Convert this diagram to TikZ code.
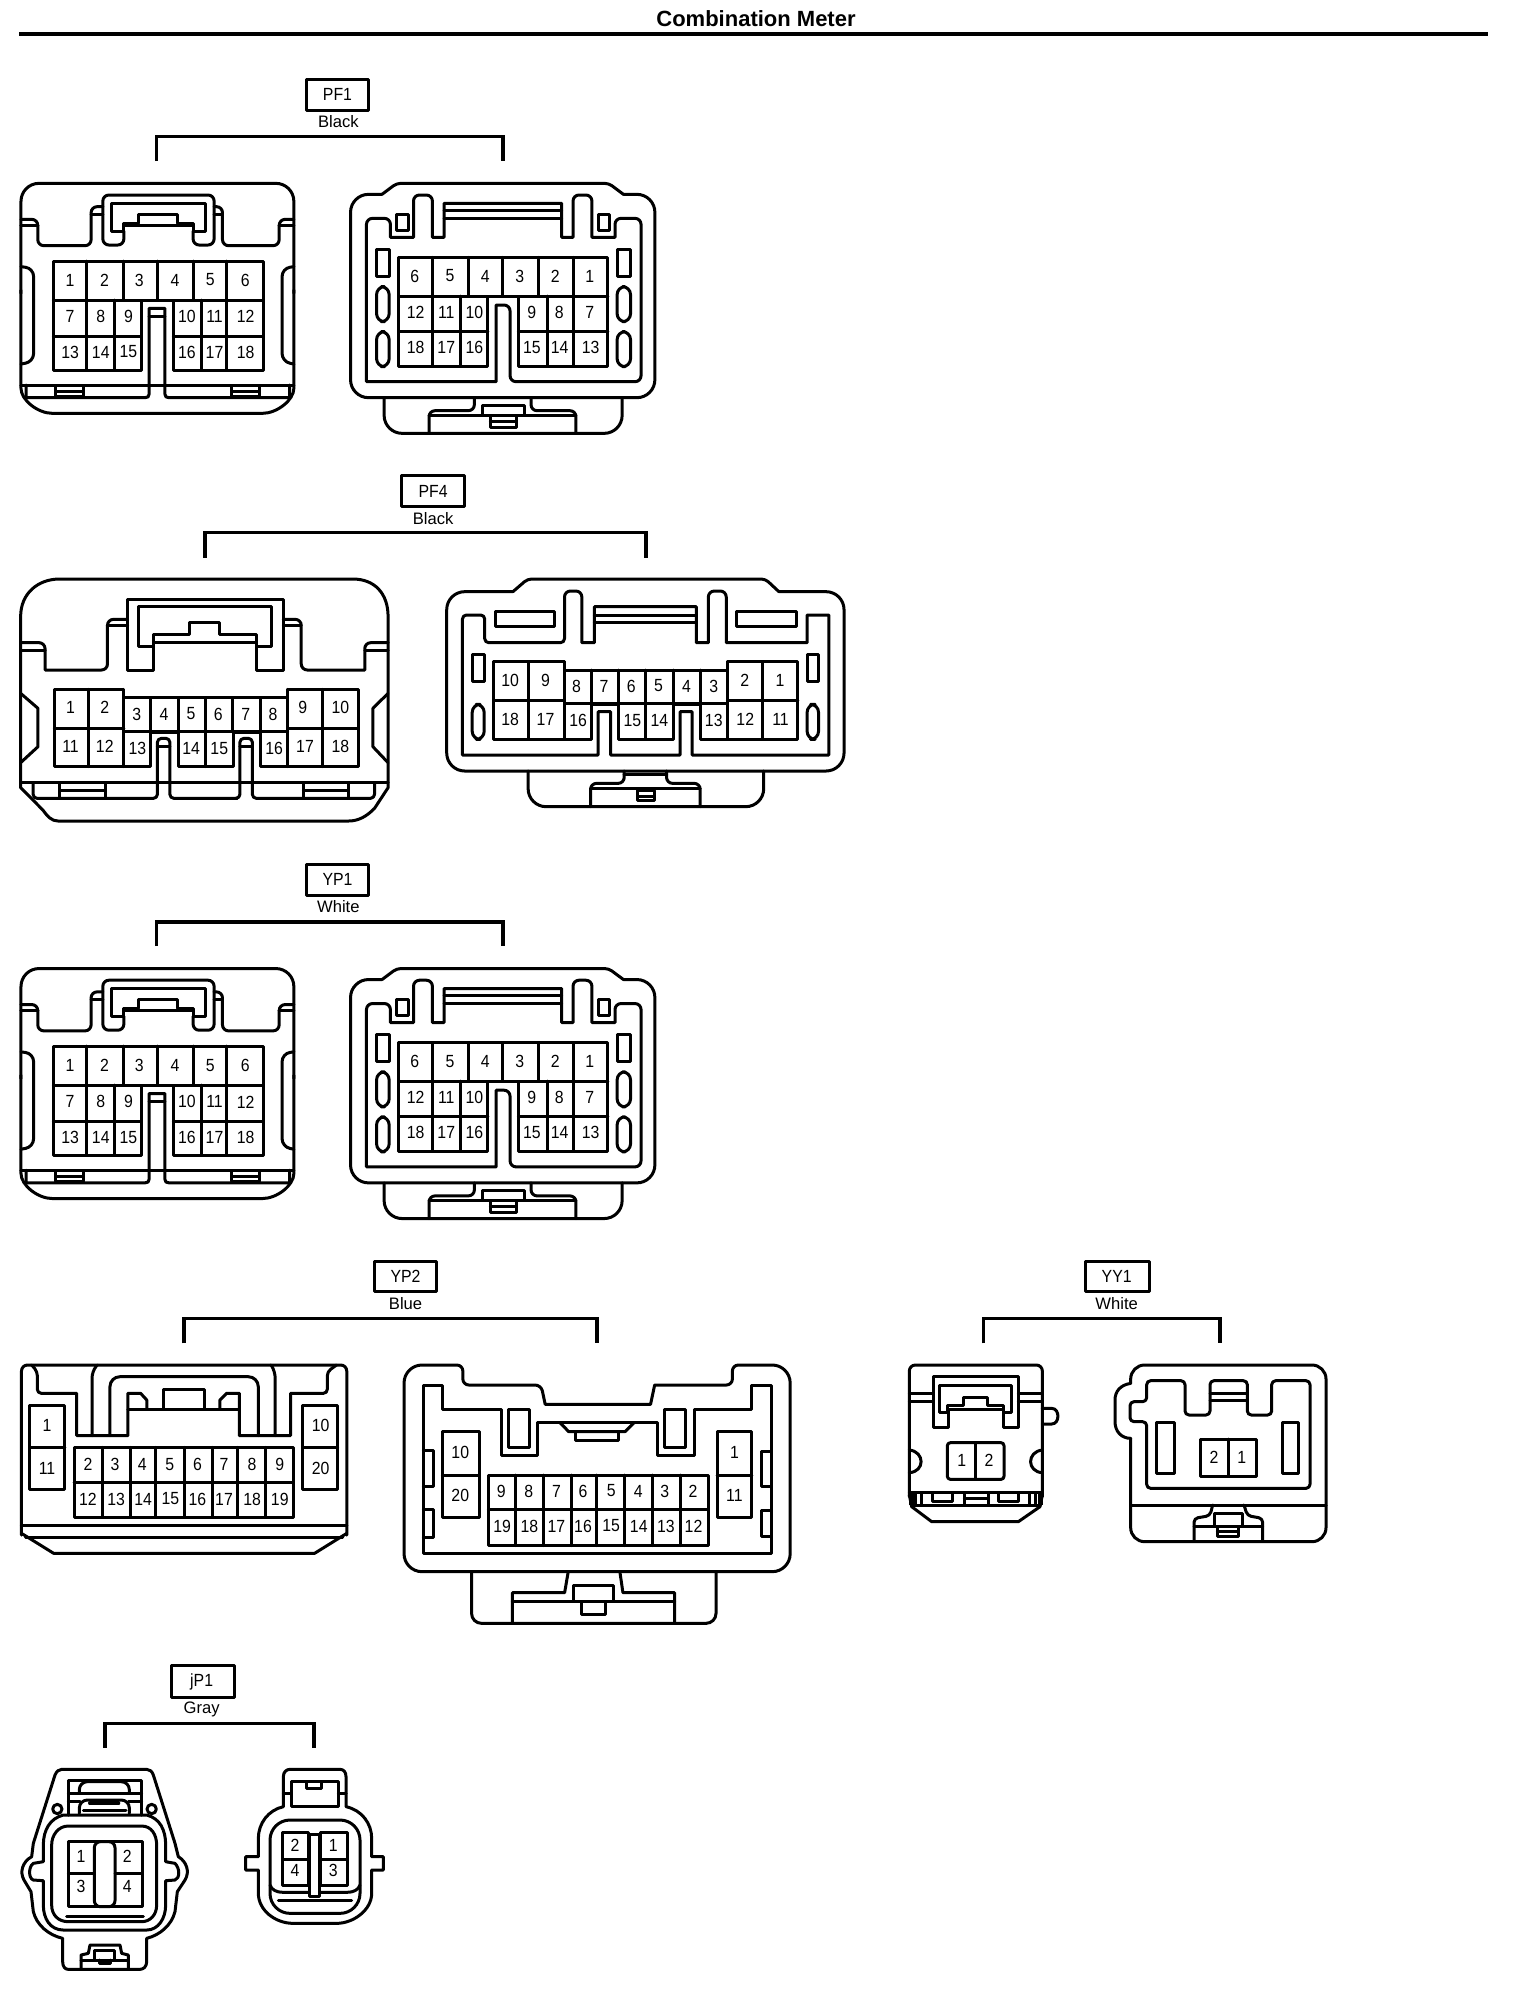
\documentclass[tikz,border=0pt]{standalone}
\usepackage{fontspec}
\setmainfont{Liberation Sans}
\newfontfamily\pinfont[FakeStretch=0.9]{Liberation Sans}
\newcounter{nn}
\tikzset{
  ln/.style={draw=black,line width=1.5pt,line join=round,line cap=round},
  brk/.style={draw=black,line width=1.8pt,line join=miter},
  pinlab/.style={inner sep=0pt,font=\pinfont\fontsize{8.8}{9}\selectfont,text=black},
  taglab/.style={inner sep=0pt,font=\pinfont\fontsize{8.8}{9}\selectfont,text=black},
  collab/.style={inner sep=0pt,font=\fontsize{8.3}{9}\selectfont,text=black},
  zA/.style={x=0.2099pt,y=-0.16667pt,yshift=-30pt},
  zB/.style={x=0.2714pt,y=-0.16667pt,yshift=-230pt},
  zC/.style={x=0.25572pt,y=-0.16667pt,yshift=-615pt},
  zD/.style={x=0.16667pt,y=-0.16667pt,xshift=435pt,yshift=-615pt},
  zE/.style={x=0.16667pt,y=-0.16667pt,xshift=550pt,yshift=-675pt},
  zF/.style={x=0.16667pt,y=-0.16667pt,yshift=-815pt},
}
\newcommand\lab[2]{\stepcounter{nn}\node[pinlab] (n\arabic{nn}) at (#1) {#2};}
\newcommand\labs[2]{\foreach \xx/\vv in {#2} {\stepcounter{nn}\node[pinlab] (n\arabic{nn}) at (\xx,#1) {\vv};}}
% PF1 / YP1 shape
\newcommand\blockA[2]{%
  \draw[ln] (730,57) rectangle (878,150);
  \stepcounter{nn}\node[taglab] (n\arabic{nn}) at (804,103) {#1};
  \stepcounter{nn}\node[collab] (n\arabic{nn}) at (806,185) {#2};
  \coordinate (aL) at (373,303); \coordinate (aR) at (1198,303);
  \draw[brk] (aL) -- (373,230) -- (1198,230) -- (aR);
  % left connector
  \draw[ln,rounded corners=9pt] (50,700) -- (50,370) -- (700,370) -- (700,700);
  \draw[ln] (50,690) -- (50,985) .. controls (50,1020) and (90,1060) .. (125,1060) -- (625,1060) .. controls (660,1060) and (700,1020) .. (700,985) -- (700,690);
  \draw[ln] (50,975) -- (700,975);
  \draw[ln] (62,975) -- (62,1013) -- (345,1013) .. controls (352,1013) and (355,1010) .. (355,1003) -- (355,745) -- (393,745) -- (393,1003) .. controls (393,1010) and (396,1013) .. (403,1013) -- (690,1013) -- (690,975);
  \draw[ln] (355,768) -- (393,768);
  \draw[ln] (133,975) rectangle (198,1010); \draw[ln] (133,993) -- (198,993);
  \draw[ln] (552,975) rectangle (617,1010); \draw[ln] (552,993) -- (617,993);
  \draw[ln] (265,430) -- (490,430) -- (490,513) -- (460,513) -- (460,490) -- (422,490) -- (422,462) -- (330,462) -- (330,490) -- (293,490) -- (293,513) -- (265,513) -- cycle;
  \draw[ln] (295,497) -- (460,497);
  \draw[ln,rounded corners=3pt] (295,513) -- (295,555) -- (245,555) -- (245,405) -- (510,405) -- (510,555) -- (460,555) -- (460,513);
  \draw[ln,rounded corners=3pt] (245,440) -- (217,440) -- (217,557) -- (90,557) -- (90,478) -- (50,478);
  \draw[ln] (217,462) -- (245,462); \draw[ln] (50,497) -- (90,497);
  \draw[ln,rounded corners=3pt] (510,440) -- (530,440) -- (530,557) -- (665,557) -- (665,478) -- (700,478);
  \draw[ln] (510,462) -- (530,462); \draw[ln] (665,497) -- (700,497);
  \draw[ln,rounded corners=4pt] (50,620) -- (80,625) -- (80,905) -- (50,912);
  \draw[ln,rounded corners=4pt] (700,620) -- (672,625) -- (672,905) -- (700,912);
  \draw[ln] (127,603) -- (627,603) -- (627,930) -- (413,930) -- (413,720) -- (337,720) -- (337,930) -- (127,930) -- cycle;
  \draw[ln] (127,720) -- (337,720); \draw[ln] (413,720) -- (627,720) (340,720) -- (413,720);
  \draw[ln] (127,828) -- (337,828) (413,828) -- (627,828);
  \foreach \x in {207,293,375,460,540} \draw[ln] (\x,603) -- (\x,720);
  \foreach \x in {207,273,480,540} \draw[ln] (\x,720) -- (\x,930);
  \labs{660}{167/1,249/2,332/3,417/4,501/5,584/6}
  \labs{770}{167/7,240/8,306/9,445/10,511/11,585/12}
  \labs{876}{167/13,240/14,306/15,445/16,511/17,585/18}
  % right connector
  \draw[ln,rounded corners=2pt] (910,403) -- (945,370) -- (1450,370) -- (1485,403);
  \draw[ln,rounded corners=9pt] (910,403) -- (835,403) -- (835,1013) -- (1560,1013) -- (1560,403) -- (1485,403);
  \draw[ln,rounded corners=9pt] (915,1013) -- (915,1120) -- (1482,1120) -- (1482,1013);
  \draw[ln,rounded corners=3pt] (1130,1013) -- (1130,1052) -- (1022,1052) -- (1022,1120);
  \draw[ln,rounded corners=3pt] (1265,1013) -- (1265,1052) -- (1372,1052) -- (1372,1120);
  \draw[ln] (1022,1065) -- (1372,1065);
  \draw[ln] (1150,1035) rectangle (1250,1065);
  \draw[ln] (1168,1065) rectangle (1230,1103); \draw[ln] (1168,1085) -- (1230,1085);
  \draw[ln,rounded corners=3pt] (873,965) -- (873,475) -- (930,475) [sharp corners] -- (930,532) -- (985,532) [rounded corners=3pt] -- (985,405) -- (1030,405) [sharp corners] -- (1030,532) -- (1058,532) -- (1058,430) -- (1338,430) -- (1338,532) -- (1365,532) [rounded corners=3pt] -- (1365,405) -- (1410,405) [sharp corners] -- (1410,532) -- (1465,532) [rounded corners=3pt] -- (1465,475) -- (1527,475) -- (1527,965) -- (1215,965) -- (1215,735) [sharp corners] -- (1182,735) -- (1182,965) -- cycle;
  \draw[ln] (1058,452) -- (1338,452) (1058,475) -- (1338,475);
  \draw[ln] (945,462) rectangle (972,512); \draw[ln] (1425,462) rectangle (1452,512);
  \draw[ln] (897,568) rectangle (927,650); \draw[ln] (1470,568) rectangle (1502,650);
  \draw[ln,rounded corners=4pt] (897,680) rectangle (927,785); \draw[ln,rounded corners=4pt] (897,815) rectangle (927,920);
  \draw[ln,rounded corners=4pt] (1470,680) rectangle (1502,785); \draw[ln,rounded corners=4pt] (1470,815) rectangle (1502,920);
  \draw[ln] (950,592) -- (1448,592) -- (1448,918) -- (1235,918) -- (1235,708) -- (1162,708) -- (1162,918) -- (950,918) -- cycle;
  \draw[ln] (950,708) -- (1448,708);
  \draw[ln] (950,815) -- (1162,815) (1235,815) -- (1448,815);
  \foreach \x in {1030,1115,1197,1283,1365} \draw[ln] (\x,592) -- (\x,708);
  \foreach \x in {1030,1097,1303,1365} \draw[ln] (\x,708) -- (\x,918);
  \labs{648}{988/6,1072/5,1156/4,1238/3,1323/2,1405/1}
  \labs{757}{990/12,1063/11,1130/10,1267/9,1332/8,1405/7}
  \labs{862}{990/18,1063/17,1130/16,1267/15,1333/14,1407/13}
}
\begin{document}
\begin{tikzpicture}[x=0.5pt,y=-0.5pt]
\useasboundingbox (0,0) rectangle (1536,1998);
% title
\node[inner sep=0pt,font=\bfseries\fontsize{11}{11}\selectfont] (title) at (756,19) {Combination Meter};
\coordinate (ruleL) at (19,34); \coordinate (ruleR) at (1494,34);
\draw[draw=black,line width=2.2pt] (ruleL) -- ([xshift=-3pt]ruleR);
% PF1
\begin{scope}[zA]
\blockA{PF1}{Black}
\end{scope}
% YP1
\begin{scope}[zA,yshift=-392.6pt]
\blockA{YP1}{White}
\end{scope}
% PF4
\begin{scope}[zB]
\draw[ln] (740,45) rectangle (855,140);
\node[taglab] (pf4) at (798,93) {PF4};
\node[collab] (pf4c) at (798,175) {Black};
\coordinate (bL) at (378,293); \coordinate (bR) at (1190,293);
\draw[brk] (bL) -- (378,217) -- (1190,217) -- (bR);
% left
\draw[ln] (38,983) -- (38,470) .. controls (38,400) and (70,357) .. (110,357) -- (650,357) .. controls (690,357) and (715,400) .. (715,470) -- (715,983) -- (690,1045) .. controls (675,1070) and (660,1083) .. (642,1083) -- (107,1083) .. controls (95,1083) and (88,1070) .. (79,1050) -- cycle;
\draw[ln] (38,968) -- (715,968);
\draw[ln,rounded corners=2pt] (61,968) -- (61,1015) -- (290,1015) -- (290,835) -- (313,835) -- (313,1015) -- (437,1015);
\draw[ln,rounded corners=2pt] (437,1015) -- (442,1015) -- (442,835) -- (465,835) -- (465,1015) -- (690,1015) -- (690,968);
\draw[ln] (290,858) -- (313,858) (442,858) -- (465,858);
\draw[ln] (110,968) rectangle (194,1015); \draw[ln] (110,990) -- (194,990);
\draw[ln] (559,968) rectangle (642,1015); \draw[ln] (559,990) -- (642,990);
\draw[ln] (255,440) -- (500,440) -- (500,558) -- (472,558) -- (472,522) -- (405,522) -- (405,487) -- (350,487) -- (350,522) -- (283,522) -- (283,558) -- (255,558) -- cycle;
\draw[ln] (283,548) -- (472,548);
\draw[ln] (283,558) -- (283,630) -- (235,630) -- (235,418) -- (522,418) -- (522,630) -- (472,630) -- (472,558);
\draw[ln,rounded corners=3pt] (235,478) -- (198,478) -- (198,630) [sharp corners] -- (83,630) [rounded corners=3pt] -- (83,548) -- (38,548);
\draw[ln] (198,497) -- (235,497) (38,570) -- (83,570);
\draw[ln,rounded corners=3pt] (522,478) -- (555,478) -- (555,630) [sharp corners] -- (672,630) [rounded corners=3pt] -- (672,548) -- (715,548);
\draw[ln] (522,497) -- (555,497) (672,570) -- (715,570);
\draw[ln] (38,700) -- (70,745) -- (70,860) -- (38,908);
\draw[ln] (715,700) -- (687,745) -- (687,860) -- (715,908);
\draw[ln] (100,688) -- (228,688) -- (228,713) -- (530,713) -- (530,688) -- (660,688) -- (660,920) -- (480,920) -- (480,817) -- (430,817) -- (430,920) -- (328,920) -- (328,817) -- (277,817) -- (277,920) -- (100,920) -- cycle;
\draw[ln] (100,805) -- (228,805) (530,805) -- (660,805) (228,815) -- (530,815);
\foreach \x in {163,228,530,594} \draw[ln] (\x,688) -- (\x,920);
\foreach \x in {277,328,378,428,480} \draw[ln] (\x,713) -- (\x,815);
\draw[ln] (378,815) -- (378,920);
\labs{743}{130/1,193/2,558/9,627/10}
\labs{762}{252/3,302/4,352/5,402/6,453/7,503/8}
\labs{860}{130/11,193/12,562/17,627/18}
\labs{865}{253/13,352/14,404/15,505/16}
% right
\draw[ln,rounded corners=2pt] (945,395) -- (972,357) -- (1410,357) -- (1435,395);
\draw[ln,rounded corners=9pt] (945,395) -- (823,395) -- (823,933) -- (1555,933) -- (1555,395) -- (1435,395);
\draw[ln,rounded corners=9pt] (973,933) -- (973,1040) -- (1407,1040) -- (1407,933);
\draw[ln,rounded corners=3pt] (1150,933) -- (1150,970) -- (1088,970) -- (1088,1040);
\draw[ln,rounded corners=3pt] (1228,933) -- (1228,970) -- (1290,970) -- (1290,1040);
\draw[ln] (1088,985) -- (1290,985) (1150,942) -- (1228,942);
\draw[ln] (1175,990) rectangle (1205,1022); \draw[ln] (1175,1010) -- (1205,1010);
\draw[ln,rounded corners=2pt] (852,885) -- (852,465) -- (893,465) -- (893,548) -- (1040,548) [rounded corners=3pt] -- (1040,393) -- (1072,393) [sharp corners] -- (1072,548) -- (1095,548) -- (1095,440) -- (1283,440) -- (1283,548) -- (1305,548) [rounded corners=3pt] -- (1305,393) -- (1338,393) [sharp corners] -- (1338,548) -- (1487,548) -- (1487,465) -- (1527,465) -- (1527,885) -- (1275,885) -- (1275,755) -- (1253,755) -- (1253,885) -- (1125,885) -- (1125,755) -- (1102,755) -- (1102,885) -- cycle;
\draw[ln] (1095,465) -- (1283,465) (1095,487) -- (1283,487);
\draw[ln] (912,453) rectangle (1022,498); \draw[ln] (1357,453) rectangle (1467,498);
\draw[ln] (870,583) rectangle (892,665); \draw[ln] (1487,583) rectangle (1508,665);
\draw[ln,rounded corners=4pt] (870,733) rectangle (892,838); \draw[ln,rounded corners=4pt] (1487,733) rectangle (1508,838);
\draw[ln] (910,605) -- (1040,605) -- (1040,630) -- (1340,630) -- (1340,605) -- (1470,605) -- (1470,838) -- (1290,838) -- (1290,733) -- (1240,733) -- (1240,838) -- (1140,838) -- (1140,733) -- (1090,733) -- (1090,838) -- (910,838) -- cycle;
\draw[ln] (910,722) -- (1040,722) (1340,722) -- (1470,722) (1040,730) -- (1340,730);
\foreach \x in {973,1040,1340,1405} \draw[ln] (\x,605) -- (\x,838);
\foreach \x in {1090,1140,1190,1240,1290} \draw[ln] (\x,630) -- (\x,730);
\draw[ln] (1190,730) -- (1190,838);
\labs{660}{940/10,1005/9,1372/2,1437/1}
\labs{678}{1062/8,1113/7,1163/6,1213/5,1265/4,1315/3}
\labs{777}{940/18,1005/17,1373/12,1438/11}
\labs{782}{1065/16,1165/15,1215/14,1315/13}
\end{scope}
% YP2
\begin{scope}[zC]
\draw[ln] (732,93) rectangle (853,185);
\node[taglab] (yp2) at (793,138) {YP2};
\node[collab] (yp2c) at (793,222) {Blue};
\coordinate (cL) at (360,340); \coordinate (cR) at (1167,340);
\draw[brk] (cL) -- (360,266) -- (1167,266) -- (cR);
% left
\draw[ln,rounded corners=3pt] (42,915) -- (42,405) -- (678,405) -- (678,915);
\draw[ln] (42,910) -- (105,970) -- (615,970) -- (678,910);
\draw[ln] (42,885) -- (678,885) (50,922) -- (670,922);
\draw[ln,rounded corners=2pt] (62,405) -- (73,425) -- (73,490) [sharp corners] -- (150,490) -- (150,617) -- (250,617) -- (250,490) -- (275,490) -- (287,510) -- (287,537);
\draw[ln,rounded corners=2pt] (658,405) -- (640,425) -- (640,490) [sharp corners] -- (568,490) -- (568,617) -- (468,617) -- (468,490) -- (443,490) -- (430,510) -- (430,537);
\draw[ln] (250,537) -- (468,537);
\draw[ln,rounded corners=3pt] (190,405) -- (180,425) -- (180,617);
\draw[ln,rounded corners=3pt] (530,405) -- (538,425) -- (538,617);
\draw[ln,rounded corners=5pt] (215,617) -- (215,440) -- (505,440) -- (505,617);
\draw[ln] (320,537) -- (320,478) -- (400,478) -- (400,537);
\draw[ln] (58,525) rectangle (127,778); \draw[ln] (58,652) -- (127,652);
\draw[ln] (592,525) rectangle (660,778); \draw[ln] (592,652) -- (660,652);
\draw[ln] (145,652) rectangle (573,862); \draw[ln] (145,757) -- (573,757);
\foreach \x in {200,255,305,360,415,465,520} \draw[ln] (\x,652) -- (\x,862);
\labs{703}{172/2,225/3,278/4,332/5,386/6,438/7,493/8,547/9}
\labs{807}{172/12,227/13,280/14,333/15,386/16,438/17,493/18,547/19}
\lab{92,585}{1} \lab{92,715}{11} \lab{627,585}{10} \lab{627,715}{20}
% right
\draw[ln,rounded corners=9pt] (790,700) -- (790,405) [rounded corners=3pt] -- (905,405) -- (905,465) -- (1058,465) [sharp corners] -- (1066,523) -- (1272,523) -- (1280,465) [rounded corners=3pt] -- (1432,465) -- (1432,405) [rounded corners=9pt] -- (1545,405) -- (1545,1025) -- (790,1025) -- cycle;
\draw[ln] (828,970) -- (828,465) -- (865,465) -- (865,537) -- (980,537) -- (980,677) -- (1050,677) -- (1050,578) -- (1285,578) -- (1285,677) -- (1357,677) -- (1357,537) -- (1470,537) -- (1470,465) -- (1508,465) -- (1508,970) -- cycle;
\draw[ln] (995,537) rectangle (1035,652); \draw[ln] (1300,537) rectangle (1340,652);
\draw[ln] (1095,578) -- (1112,605) -- (1222,605) -- (1240,578);
\draw[ln] (1125,605) rectangle (1210,630);
\draw[ln] (865,603) rectangle (937,862); \draw[ln] (865,737) -- (937,737);
\draw[ln] (1402,603) rectangle (1470,862); \draw[ln] (1402,737) -- (1470,737);
\draw[ln] (955,735) rectangle (1385,947); \draw[ln] (955,838) -- (1385,838);
\foreach \x in {1008,1062,1117,1167,1222,1276,1330} \draw[ln] (\x,735) -- (\x,947);
\draw[ln] (828,662) -- (848,662) -- (848,768) -- (828,768);
\draw[ln] (828,838) -- (848,838) -- (848,922) -- (828,922);
\draw[ln] (1508,665) -- (1488,665) -- (1488,768) -- (1508,768);
\draw[ln] (1508,840) -- (1488,840) -- (1488,920) -- (1508,920);
\lab{900,667}{10} \lab{900,795}{20} \lab{1436,667}{1} \lab{1436,795}{11}
\labs{783}{980/9,1034/8,1088/7,1140/6,1195/5,1248/4,1300/3,1355/2}
\labs{888}{982/19,1035/18,1088/17,1140/16,1195/15,1249/14,1302/13,1356/12}
\draw[ln,rounded corners=5pt] (922,1025) -- (922,1180) -- (1400,1180) -- (1400,1025);
\draw[ln] (1111,1025) -- (1104,1088) -- (1002,1088) -- (1002,1180);
\draw[ln] (1212,1025) -- (1218,1088) -- (1319,1088) -- (1319,1180);
\draw[ln] (1002,1113) -- (1319,1113);
\draw[ln] (1122,1065) rectangle (1200,1113);
\draw[ln] (1137,1113) rectangle (1184,1152);
\end{scope}
% YY1 left
\begin{scope}[zD]
\draw[ln] (645,93) rectangle (837,185);
\node[taglab] (yy1) at (740,138) {YY1};
\node[collab] (yy1c) at (740,222) {White};
\coordinate (dL) at (340,340); \coordinate (dR) at (1050,340);
\draw[brk] (dL) -- (340,266) -- (1050,266) -- (dR);
\draw[ln,rounded corners=3pt] (118,800) -- (118,405) -- (517,405) -- (517,800);
\draw[ln] (118,795) -- (125,830) -- (185,875) -- (445,875) -- (510,830) -- (517,795);
\draw[ln] (118,788) -- (517,788) (125,825) -- (510,825);
\draw[line width=2.5pt,draw=black] (125,790) -- (125,825);
\draw[line width=2.5pt,draw=black] (510,790) -- (510,825);
\foreach \x in {135,155,478,497} \draw[ln] (\x,788) -- (\x,825);
\draw[ln] (187,788) -- (187,815) -- (247,815) -- (247,788);
\draw[ln] (385,788) -- (385,815) -- (445,815) -- (445,788);
\draw[ln] (283,788) -- (283,825) (355,788) -- (355,825) (283,805) -- (355,805);
\draw[ln] (235,540) -- (235,593) -- (190,593) -- (190,440) -- (445,440) -- (445,593) -- (400,593) -- (400,540);
\draw[ln] (208,465) -- (425,465) -- (425,547) -- (400,547) -- (400,525) -- (353,525) -- (353,502) -- (280,502) -- (280,525) -- (232,525) -- (232,547) -- (208,547) -- cycle;
\draw[ln] (235,537) -- (400,537);
\draw[ln] (118,490) -- (190,490) (118,513) -- (190,513) (445,490) -- (517,490) (445,513) -- (517,513);
\draw[ln] (517,535) -- (545,535) .. controls (570,535) and (570,582) .. (545,582) -- (517,582);
\draw[ln] (118,660) .. controls (165,665) and (165,725) .. (118,728);
\draw[ln] (517,660) .. controls (470,665) and (470,725) .. (517,728);
\draw[ln,rounded corners=1.5pt] (232,638) rectangle (402,748);
\draw[ln] (315,638) -- (315,748);
\lab{275,690}{1} \lab{357,690}{2}
\end{scope}
% YY1 right
\begin{scope}[zE]
\draw[ln,rounded corners=7pt] (92,265) -- (92,575) -- (678,575) -- (678,45) -- (92,45) -- (92,100);
\draw[ln] (92,100) .. controls (60,105) and (45,125) .. (45,150) -- (45,215) .. controls (45,245) and (65,265) .. (92,265);
\draw[ln] (92,465) -- (678,465);
\draw[ln,rounded corners=2pt] (140,415) -- (140,215) -- (90,215) -- (90,155) -- (140,155) -- (140,92) -- (255,92) -- (255,195) -- (330,195) -- (330,92) -- (442,92) -- (442,195) -- (515,195) -- (515,92) -- (630,92) -- (630,415) -- cycle;
\draw[ln] (330,130) -- (442,130) (330,152) -- (442,152);
\draw[ln] (170,218) rectangle (222,370); \draw[ln] (548,218) rectangle (595,370);
\draw[ln] (302,267) rectangle (470,378); \draw[ln] (385,267) -- (385,378);
\lab{342,322}{2} \lab{425,322}{1}
\draw[ln,rounded corners=2pt] (338,465) -- (330,497) -- (282,505) -- (282,572);
\draw[ln,rounded corners=2pt] (432,465) -- (442,497) -- (488,505) -- (488,572);
\draw[ln] (282,530) -- (488,530);
\draw[ln] (342,490) rectangle (428,530);
\draw[ln] (352,530) rectangle (415,558); \draw[ln] (352,545) -- (415,545);
\end{scope}
% jP1
\begin{scope}[zF]
\draw[ln] (513,105) rectangle (702,203);
\node[taglab] (jp1) at (605,155) {jP1};
\node[collab] (jp1c) at (605,237) {Gray};
\coordinate (eL) at (315,353); \coordinate (eR) at (942,353);
\draw[brk] (eL) -- (315,280) -- (942,280) -- (eR);
% left
\draw[ln] (185,418) -- (440,418) .. controls (450,418) and (456,424) .. (460,435) -- (525,640) -- (535,680) .. controls (560,695) and (570,725) .. (555,750) -- (532,785) -- (525,845) .. controls (515,885) and (480,915) .. (440,925) -- (440,995) .. controls (440,1010) and (430,1018) .. (420,1018) -- (205,1018) .. controls (195,1018) and (188,1010) .. (188,995) -- (188,925) .. controls (145,915) and (110,885) .. (100,845) -- (93,785) -- (72,750) .. controls (58,725) and (68,695) .. (95,680) -- (100,640) -- (165,435) .. controls (170,424) and (176,418) .. (185,418) -- cycle;
\draw[ln] (190,555) -- (440,555) .. controls (480,565) and (497,600) .. (497,645) -- (497,695) -- (525,700) .. controls (540,715) and (540,745) .. (525,750) -- (497,752) -- (497,825) .. controls (497,865) and (475,900) .. (440,900) -- (190,900) .. controls (150,900) and (130,865) .. (130,825) -- (130,752) -- (100,750) .. controls (85,745) and (85,710) .. (100,700) -- (130,695) -- (130,645) .. controls (130,600) and (150,565) .. (190,555) -- cycle;
\draw[ln] (205,588) -- (425,588) .. controls (455,588) and (470,615) .. (470,645) -- (470,825) .. controls (470,855) and (450,875) .. (425,875) -- (205,875) .. controls (175,875) and (155,855) .. (155,825) -- (155,645) .. controls (155,615) and (175,588) .. (205,588) -- cycle;
\draw[ln] (200,860) -- (430,860);
\draw[ln] (205,635) rectangle (427,830);
\draw[ln] (205,730) -- (283,730) (345,730) -- (427,730);
\draw[ln,rounded corners=3pt] (283,635) rectangle (345,830);
\lab{243,680}{1} \lab{243,770}{3} \lab{382,680}{2} \lab{382,770}{4}
\draw[ln] (205,555) -- (205,452) -- (425,452) -- (425,555);
\draw[ln] (205,490) -- (240,490) (205,515) -- (240,515) (385,490) -- (425,490) (385,515) -- (425,515);
\draw[ln,rounded corners=4pt] (238,490) -- (238,455) -- (388,455) -- (388,490);
\draw[ln] (238,490) -- (388,490);
\draw[ln,rounded corners=4pt] (238,550) -- (238,510) -- (388,510) -- (388,550);
\draw[ln,line width=2pt] (270,520) -- (355,520);
\draw[ln] (250,542) -- (378,542);
\draw[ln] (172,537) circle[radius=14];
\draw[ln] (455,537) circle[radius=14];
\draw[ln] (243,1015) -- (243,975) -- (265,970) -- (270,945) -- (360,945) -- (365,970) -- (385,975) -- (385,1015);
\draw[ln] (243,990) -- (385,990);
\draw[ln] (283,960) rectangle (343,990);
\draw[ln] (298,990) -- (298,1000) -- (330,1000) -- (330,990);
% right
\draw[ln] (850,530) -- (850,440) .. controls (850,425) and (860,418) .. (870,418) -- (1020,418) .. controls (1030,418) and (1038,425) .. (1038,440) -- (1038,530) .. controls (1085,540) and (1115,580) .. (1115,625) -- (1115,680) -- (1150,680) -- (1150,720) -- (1115,720) -- (1115,790) .. controls (1115,840) and (1060,880) .. (1010,880) -- (880,880) .. controls (825,880) and (775,840) .. (775,790) -- (775,720) -- (737,720) -- (737,680) -- (775,680) -- (775,625) .. controls (775,580) and (805,540) .. (850,530) -- cycle;
\draw[ln] (873,530) rectangle (1015,455);
\draw[ln] (850,490) -- (873,490) (1015,490) -- (1038,490);
\draw[ln] (918,455) -- (918,475) -- (965,475) -- (965,455);
\draw[ln,rounded corners=10pt] (810,570) rectangle (1080,850);
\draw[ln] (810,765) .. controls (815,780) and (830,787) .. (850,787) -- (1040,787) .. controls (1060,787) and (1075,780) .. (1080,765);
\draw[ln] (835,812) -- (1055,812);
\draw[ln] (848,608) rectangle (925,765); \draw[ln] (962,608) rectangle (1042,765);
\draw[ln] (848,688) -- (925,688) (962,688) -- (1042,688);
\draw[ln,fill=white] (928,612) rectangle (957,800);
\lab{885,645}{2} \lab{885,722}{4} \lab{1000,645}{1} \lab{1000,722}{3}
\end{scope}
\end{tikzpicture}
\end{document}
